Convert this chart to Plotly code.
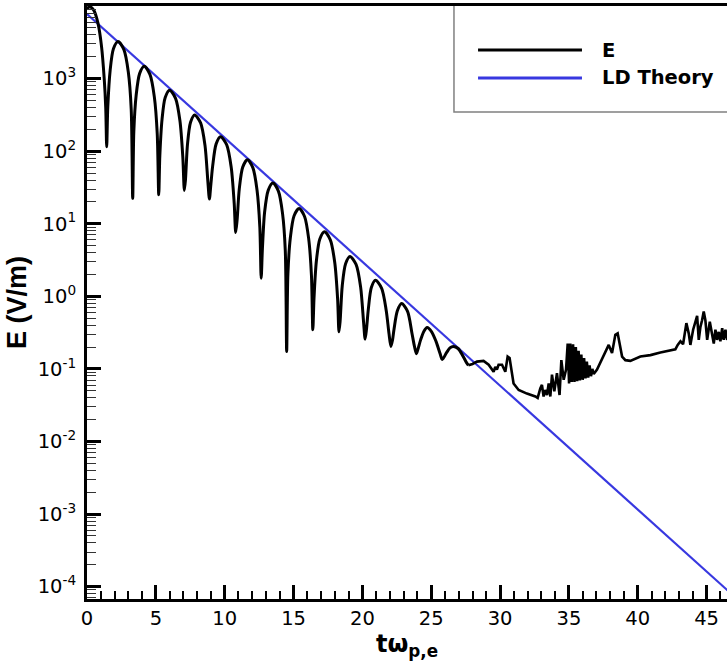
import plotly.graph_objects as go

# ---- data ----
# Landau-damped phase of the field amplitude (t*omega_pe, E in V/m)
t_damped = [0.0, 0.2, 0.5, 0.8, 1.05, 1.25, 1.36, 1.43,
            1.51, 1.68, 1.92, 2.25, 2.68, 3.0, 3.21, 3.32,
            3.40, 3.57, 3.82, 4.15, 4.57, 4.89, 5.10, 5.21,
            5.29, 5.45, 5.68, 6.0, 6.43, 6.75, 6.96, 7.07,
            7.15, 7.30, 7.52, 7.82, 8.25, 8.57, 8.78, 8.89,
            9.0, 9.13, 9.38, 9.7, 10.14, 10.47, 10.69, 10.8,
            10.9, 11.06, 11.31, 11.65, 12.05, 12.35, 12.55, 12.65,
            12.74, 12.9, 13.16, 13.5, 13.9, 14.2, 14.4, 14.5,
            14.59, 14.77, 15.04, 15.4, 15.8, 16.1, 16.3, 16.4,
            16.49, 16.66, 16.91, 17.25, 17.67, 17.99, 18.2, 18.3,
            18.38, 18.54, 18.78, 19.1, 19.54, 19.87, 20.09, 20.2,
            20.3, 20.43, 20.65, 20.95, 21.4, 21.73, 21.93, 22.07,
            22.19, 22.3, 22.54, 22.85, 23.28, 23.6, 23.78, 23.92,
            24.05, 24.23, 24.47, 24.7, 25.03, 25.36, 25.64, 25.8,
            26.1, 26.36, 26.6, 26.95, 27.3, 27.55, 27.7]
E_damped = [9120, 9770, 8710, 5750, 2820, 1000, 398, 115,
            407, 1290, 2570, 3240, 2500, 1230, 380, 22.4,
            186, 589, 1170, 1480, 1140, 560, 175, 25.1,
            87.1, 275, 550, 692, 535, 262, 82, 28.8,
            39.8, 126, 251, 316, 245, 120, 37.5, 21.9,
            35.5, 63.1, 126, 158, 123, 60.5, 19.2, 7.59,
            11.2, 30.2, 60.3, 75.9, 58.8, 29.0, 9.1, 1.78,
            4.57, 14.5, 28.8, 36.3, 28.1, 13.9, 4.3, 0.174,
            2.04, 6.46, 12.9, 16.2, 12.6, 6.2, 1.95, 0.347,
            0.977, 3.09, 6.17, 7.76, 6.0, 2.95, 0.93, 0.324,
            0.447, 1.41, 2.82, 3.55, 2.75, 1.35, 0.43, 0.257,
            0.355, 0.661, 1.32, 1.66, 1.29, 0.64, 0.31, 0.204,
            0.251, 0.355, 0.631, 0.794, 0.62, 0.31, 0.205, 0.162,
            0.191, 0.251, 0.331, 0.372, 0.325, 0.236, 0.163, 0.135,
            0.166, 0.195, 0.204, 0.191, 0.151, 0.123, 0.112]

# noisy late phase
t_late = [27.7, 28.0, 28.32, 28.56, 28.8, 29.17, 29.35, 29.53, 29.65, 29.77,
          29.89, 30.14, 30.38, 30.55, 30.69, 30.86, 30.98, 31.35, 31.95, 32.56,
          32.73, 32.92, 33.04, 33.16, 33.28, 33.41, 33.53, 33.65, 33.77, 33.94,
          34.13, 34.32, 34.45, 34.62, 34.79, 34.91, 35.01, 35.1, 35.2, 35.3,
          35.4, 35.5, 35.6, 35.7, 35.8, 35.9, 36.0, 36.1, 36.2, 36.3,
          36.4, 36.5, 36.6, 36.7, 36.8, 37.04, 37.52, 37.89, 38.13, 38.37,
          38.54, 38.74, 38.86, 39.1, 39.46, 40.19, 40.92, 41.64, 42.37, 42.73,
          42.9, 43.1, 43.29, 43.46, 43.53, 43.7, 43.82, 44.02, 44.19, 44.31,
          44.43, 44.55, 44.67, 44.79, 44.91, 45.04, 45.23, 45.4, 45.52, 45.64,
          45.76, 45.88, 46.0, 46.13, 46.24, 46.37, 46.49, 46.66]
E_late = [0.112, 0.117, 0.126, 0.126, 0.129, 0.114, 0.100, 0.0912, 0.107, 0.0977,
          0.114, 0.114, 0.0912, 0.148, 0.141, 0.0871, 0.0631, 0.0513, 0.0457, 0.0417,
          0.0398, 0.0537, 0.0603, 0.0417, 0.0513, 0.0437, 0.0631, 0.0417, 0.0832, 0.049,
          0.0871, 0.0437, 0.132, 0.0708, 0.0977, 0.224, 0.0631, 0.224, 0.0661, 0.219,
          0.0661, 0.200, 0.0676, 0.178, 0.0692, 0.158, 0.0708, 0.141, 0.0741, 0.126,
          0.0759, 0.112, 0.0794, 0.100, 0.0851, 0.0977, 0.148, 0.214, 0.166, 0.295,
          0.309, 0.204, 0.148, 0.132, 0.129, 0.148, 0.155, 0.168, 0.178, 0.186,
          0.214, 0.240, 0.219, 0.380, 0.427, 0.309, 0.214, 0.347, 0.468, 0.537,
          0.251, 0.380, 0.468, 0.617, 0.468, 0.251, 0.447, 0.309, 0.224, 0.347,
          0.251, 0.324, 0.240, 0.363, 0.251, 0.347, 0.251, 0.309]

# Landau damping theory (straight line on the log axis)
t_theory = [0.0, 48.0]
E_theory = [7760.0, 4.97e-5]

# tick labels
y_tick_vals = [1e-4, 1e-3, 1e-2, 1e-1, 1e0, 1e1, 1e2, 1e3]
y_tick_text = ["10<sup>-4</sup>", "10<sup>-3</sup>", "10<sup>-2</sup>", "10<sup>-1</sup>",
               "10<sup>0</sup>", "10<sup>1</sup>", "10<sup>2</sup>", "10<sup>3</sup>"]
legend_names = ["E", "LD Theory"]

BLACK = "#000000"
BLUE = "#3838e0"
FONT = "DejaVu Sans"

fig = go.Figure()
fig.add_trace(go.Scatter(x=t_theory, y=E_theory, mode="lines",
                         line=dict(color=BLUE, width=2.2), name=legend_names[1]))
fig.add_trace(go.Scatter(x=t_damped, y=E_damped, mode="lines",
                         line=dict(color=BLACK, width=3, shape="spline", smoothing=0.8),
                         name=legend_names[0]))
fig.add_trace(go.Scatter(x=t_late, y=E_late, mode="lines",
                         line=dict(color=BLACK, width=2.6), name=legend_names[0],
                         showlegend=False))

fig.update_layout(
    width=727, height=665,
    margin=dict(l=87, r=0, t=6, b=66),
    paper_bgcolor="white", plot_bgcolor="white",
    showlegend=False,
    font=dict(family=FONT, color="black"),
)

fig.update_xaxes(
    range=[0, 46.48], showgrid=False, zeroline=False,
    showline=True, linecolor="black", linewidth=3, mirror=True,
    ticks="inside", ticklen=14, tickwidth=3, tickcolor="black",
    tickmode="linear", tick0=0, dtick=5,
    minor=dict(dtick=1, tick0=0, ticks="inside", ticklen=8, tickwidth=1.5, tickcolor="black"),
    tickfont=dict(family=FONT, size=19.5, color="black"),
    title=dict(text="<b>tω<sub>p,e</sub></b>", font=dict(family=FONT, size=24, color="black"),
               standoff=4),
)

fig.update_yaxes(
    type="log", range=[-4.17, 4.0], showgrid=False, zeroline=False,
    showline=True, linecolor="black", linewidth=3, mirror=False,
    ticks="inside", ticklen=14, tickwidth=3, tickcolor="black",
    tickmode="array", tickvals=y_tick_vals, ticktext=y_tick_text,
    minor=dict(dtick="D1", ticks="inside", ticklen=9, tickwidth=1.2, tickcolor="#333333"),
    tickfont=dict(family=FONT, size=19.5, color="black"),
    ticklabelstandoff=4,
    title=dict(text="<b>E (V/m)</b>", font=dict(family="Liberation Sans", size=27, color="black"),
               standoff=4),
)

# legend box drawn in paper coordinates (wide line keys as in the reference)
fig.add_shape(type="path", xref="paper", yref="paper",
              path="M 0.5734,1 L 0.5734,0.8212 L 1.0,0.8212",
              line=dict(color="#808080", width=1.5))
fig.add_shape(type="line", xref="paper", yref="paper", x0=0.611, x1=0.7734, y0=0.9258, y1=0.9258,
              line=dict(color=BLACK, width=3))
fig.add_shape(type="line", xref="paper", yref="paper", x0=0.611, x1=0.7734, y0=0.8786, y1=0.8786,
              line=dict(color=BLUE, width=3))
fig.add_annotation(xref="paper", yref="paper", x=0.8016, y=0.9258, xanchor="left", yanchor="middle",
                   text="<b>" + legend_names[0] + "</b>", showarrow=False,
                   font=dict(family=FONT, size=19.5, color="black"))
fig.add_annotation(xref="paper", yref="paper", x=0.8016, y=0.8786, xanchor="left", yanchor="middle",
                   text="<b>" + legend_names[1] + "</b>", showarrow=False,
                   font=dict(family=FONT, size=19.5, color="black"))

# remove the browser's default page margin so the figure sits at the window's corner
fig.write_html("out.html",
               config={"displayModeBar": False},
               post_script="document.body.style.margin='0';document.body.style.overflow='hidden';")
